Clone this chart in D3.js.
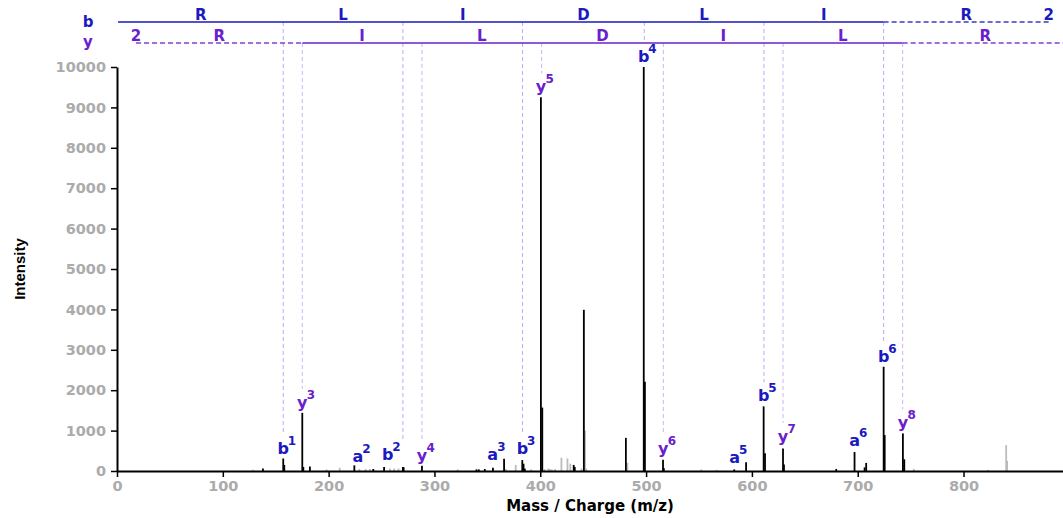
<!DOCTYPE html>
<html><head><meta charset="utf-8">
<script src="https://cdn.jsdelivr.net/npm/d3@7"></script>
<style>
body{margin:0;background:#fff;}
text{font-family:"DejaVu Sans",Verdana,sans-serif;font-weight:bold;}
</style></head><body>
<svg id="chart" width="1063" height="518"></svg>
<script>
// ---- data ----
const xTicks = [0,100,200,300,400,500,600,700,800];
const yTicks = [0,1000,2000,3000,4000,5000,6000,7000,8000,9000,10000];
const xDomain = [0, 894];
const yDomain = [0, 10000];

// [m/z, intensity] – annotated (black) peaks
const blackPeaks = [
  [137.9,60],[157.1,310],[158.1,150],[175.1,1440],[176.1,100],[182.3,110],
  [224.3,140],[242.2,50],[252.4,100],[270.2,100],[270.9,90],[288.2,130],
  [339.7,40],[341.9,40],[347.6,50],[355.3,80],[365.8,305],[383.0,270],[384.2,180],[385.4,60],
  [400.6,9250],[401.9,1570],[431.6,150],[432.6,100],[441.2,3990],[480.9,820],
  [497.8,10000],[498.9,2210],[516.0,280],[516.8,70],[583.3,40],[594.5,215],
  [611.1,1600],[612.4,440],[629.4,560],[630.3,160],[679.7,50],[697.0,470],
  [706.5,90],[708.0,200],[724.5,2580],[725.5,890],[742.7,930],[744.0,290]
];
// [m/z, intensity] – unannotated (grey) peaks
const greyPeaks = [
  [128.5,30],[198.0,40],[210.5,80],[229.0,50],[235.0,50],[239.0,50],
  [258.0,60],[262.0,60],[266.0,60],[322.0,40],[367.5,50],[376.8,150],[391.5,40],
  [404.0,50],[407.5,60],[409.0,50],[411.0,40],[414.0,50],[420.0,330],[425.7,310],[428.4,180],
  [439.0,60],[442.3,1000],[443.5,60],[482.3,200],[552.2,40],[566.7,30],
  [753.0,50],[823.0,30],[840.3,640],[841.2,250]
];

// sequence rows
const bResidues = ["R","L","I","D","L","I","R"];
const bBounds   = [1.008,157.11,270.19,383.28,498.31,611.39,724.48,880.6];
const bSolid    = [1.008,724.48];
const yResidues = ["R","I","L","D","I","L","R"];
const yBounds   = [18.01,175.12,288.20,401.29,516.32,629.40,742.49,898.6];
const ySolid    = [175.12,742.49];
const endMark   = "2";

// fragment ion annotations: type, number, theoretical m/z, label m/z, label peak intensity
const ionType  = ["b","b","b","b","b","b","a","a","a","a","y","y","y","y","y","y"];
const ionNum   = [1,2,3,4,5,6,2,3,5,6,3,4,5,6,7,8];
const ionMz    = [157.11,270.19,383.28,498.31,611.39,724.48,242.19,355.28,583.40,696.49,175.12,288.20,401.29,516.32,629.40,742.49];
const ionAt    = [157.11,255.9,383.28,497.8,611.2,724.5,227.6,355.1,583.6,697.0,175.1,288.2,400.6,516.2,629.4,742.7];
const ionInt   = [300,150,300,10000,1600,2580,110,150,80,490,1440,130,9250,300,600,930];

// ---- drawing ----
const svg = d3.select("#chart");
const x = d3.scaleLinear().domain(xDomain).range([117, 1063]);
const y = d3.scaleLinear().domain(yDomain).range([471, 67]);

const bColor = "#1a1abf", yColor = "#6a20cc";
const bRow = 22, yRow = 43;

// vertical guide lines
ionType.forEach((t,i)=>{
  if (t === "a") return;
  const top = t === "b" ? bRow : yRow;
  svg.append("line")
    .attr("x1", x(ionMz[i])).attr("x2", x(ionMz[i]))
    .attr("y1", top).attr("y2", y(ionInt[i]) - 24)
    .attr("stroke", t === "b" ? "#aeaefc" : "#cdb2f7")
    .attr("stroke-width", 1).attr("stroke-dasharray", "4,3");
});

// sequence rows
function seqRow(bounds, solid, residues, rowY, color, markAtEnd){
  const x0 = bounds[0], x1 = bounds[bounds.length-1];
  if (solid[0] > x0) svg.append("line").attr("x1",x(x0)).attr("x2",x(solid[0])).attr("y1",rowY).attr("y2",rowY)
      .attr("stroke",color).attr("stroke-width",1.3).attr("stroke-dasharray","5,3").attr("opacity",0.85);
  if (solid[1] < x1) svg.append("line").attr("x1",x(solid[1])).attr("x2",x(x1)).attr("y1",rowY).attr("y2",rowY)
      .attr("stroke",color).attr("stroke-width",1.3).attr("stroke-dasharray","5,3").attr("opacity",0.85);
  svg.append("line").attr("x1",x(solid[0])).attr("x2",x(solid[1])).attr("y1",rowY).attr("y2",rowY)
      .attr("stroke",color).attr("stroke-width",1.6);
  residues.forEach((r,i)=>{
    svg.append("text").attr("x", x((bounds[i]+bounds[i+1])/2)).attr("y", rowY-2)
      .attr("text-anchor","middle").attr("font-size",15).attr("fill",color).text(r);
  });
  svg.append("text").attr("x", x(markAtEnd ? x1 : x0)).attr("y", rowY-2)
    .attr("text-anchor","middle").attr("font-size",15).attr("fill",color).text(endMark);
}
seqRow(bBounds, bSolid, bResidues, bRow, bColor, true);
seqRow(yBounds, ySolid, yResidues, yRow, yColor, false);
svg.append("text").attr("x",88).attr("y",27).attr("text-anchor","middle").attr("font-size",15).attr("fill",bColor).text("b");
svg.append("text").attr("x",88).attr("y",47).attr("text-anchor","middle").attr("font-size",15).attr("fill",yColor).text("y");

// peaks
svg.append("g").selectAll("line").data(greyPeaks).join("line")
  .attr("x1",d=>x(d[0])).attr("x2",d=>x(d[0])).attr("y1",y(0)).attr("y2",d=>y(d[1]))
  .attr("stroke","#bbbbbb").attr("stroke-width",1.8);
svg.append("g").selectAll("line").data(blackPeaks).join("line")
  .attr("x1",d=>x(d[0])).attr("x2",d=>x(d[0])).attr("y1",y(0)).attr("y2",d=>y(d[1]))
  .attr("stroke","#000").attr("stroke-width",1.8);

// ion labels
ionType.forEach((t,i)=>{
  const col = t === "y" ? yColor : bColor;
  const cx = x(ionAt[i]), by = y(ionInt[i]) - 5;
  svg.append("text").attr("x",cx).attr("y",by).attr("text-anchor","middle")
    .attr("font-size",16).attr("fill",col).text(t);
  svg.append("text").attr("x",cx+4.5).attr("y",by-9).attr("text-anchor","start")
    .attr("font-size",12).attr("fill",col).text(ionNum[i]);
});

// axes
const xAxis = svg.append("g").attr("transform",`translate(0,${y(0)})`)
  .call(d3.axisBottom(x).tickValues(xTicks).tickFormat(d3.format("d")).tickSize(6).tickSizeOuter(0).tickPadding(4));
const yAxis = svg.append("g").attr("transform",`translate(${x(0)},0)`)
  .call(d3.axisLeft(y).tickValues(yTicks).tickFormat(d3.format("d")).tickSize(6).tickSizeOuter(0).tickPadding(5));
[xAxis,yAxis].forEach(g=>{
  g.select(".domain").attr("stroke","#000").attr("stroke-width",2);
  g.selectAll(".tick line").attr("stroke","#000").attr("stroke-width",1.5);
  g.selectAll(".tick text").attr("fill","#ababab").attr("font-size",14.5)
    .attr("font-family",'"DejaVu Sans",Verdana,sans-serif').attr("font-weight","bold");
});

svg.append("text").attr("x",(117+1063)/2).attr("y",511).attr("text-anchor","middle")
  .attr("font-size",15).attr("fill","#000").text("Mass / Charge (m/z)");
svg.append("text").attr("transform",`translate(25,${(67+471)/2}) rotate(-90)`)
  .attr("text-anchor","middle").attr("font-size",15)
  .style("font-family",'"Liberation Sans",Arial,sans-serif').attr("fill","#000").text("Intensity");
</script>
</body></html>
